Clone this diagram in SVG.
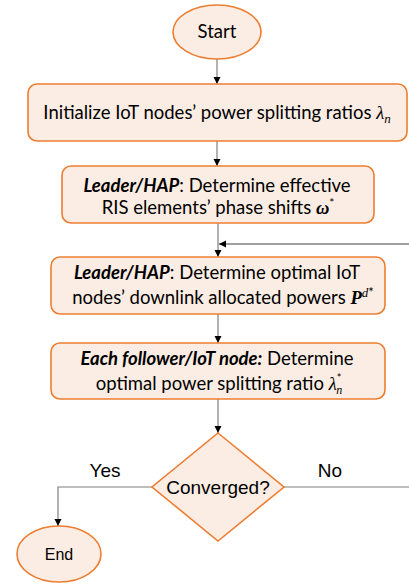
<svg xmlns="http://www.w3.org/2000/svg" width="409" height="587" viewBox="0 0 409 587">
<style>
.shape{fill:#FBEDE3;stroke:#ED7D31;stroke-width:1.6}
.t{font-family:Lato,"Open Sans",sans-serif;font-size:18.5px;fill:#000}
.a{font-family:"Liberation Sans",Arial,sans-serif;font-size:19px;fill:#000}
.bi{font-weight:bold;font-style:italic}
.m{font-family:"Liberation Serif","DejaVu Serif",serif;font-style:italic}
.c{fill:none;stroke:#7F7F7F;stroke-width:1.2}
.fb{fill:none;stroke:#404040;stroke-width:1.2}
</style>
<defs>
<marker id="ah" markerUnits="userSpaceOnUse" markerWidth="8" markerHeight="8" refX="7" refY="4" orient="auto">
<path d="M0,0.5 L7,4 L0,7.5 z" fill="#000"/>
</marker>
</defs>
<rect width="409" height="587" fill="#fff"/>
<g id="connectors">
<line class="c" x1="217" y1="58" x2="217" y2="84" marker-end="url(#ah)"/>
<line class="c" x1="217" y1="141" x2="217" y2="166" marker-end="url(#ah)"/>
<line class="c" x1="218" y1="223" x2="218" y2="257" marker-end="url(#ah)"/>
<line class="fb" x1="409" y1="244" x2="219" y2="244" marker-end="url(#ah)"/>
<line class="c" x1="218" y1="314" x2="218" y2="343" marker-end="url(#ah)"/>
<line class="c" x1="218" y1="399" x2="218" y2="433" marker-end="url(#ah)"/>
<polyline class="c" points="152,487 58,487 58,526" marker-end="url(#ah)"/>
<line class="c" x1="284" y1="487" x2="409" y2="487"/>
<text class="a" x="105" y="477" text-anchor="middle">Yes</text>
<text class="a" x="330" y="477" text-anchor="middle">No</text>
</g>
<g id="start">
<ellipse class="shape" cx="217" cy="32" rx="44" ry="27"/>
<text class="t" x="217" y="38" text-anchor="middle">Start</text>
</g>
<g id="init">
<rect class="shape" x="28" y="84" width="379" height="57" rx="9"/>
<text class="t" x="217" y="119" text-anchor="middle">Initialize IoT nodes’ power splitting ratios <tspan class="m">λ</tspan><tspan class="m" font-size="13" dy="4">n</tspan></text>
</g>
<g id="phase">
<rect class="shape" x="62" y="166" width="312" height="57" rx="9"/>
<text class="t" x="217" y="192" text-anchor="middle"><tspan class="bi">Leader/HAP</tspan>: Determine effective</text>
<text class="t" x="218" y="214" text-anchor="middle">RIS elements’ phase shifts <tspan class="m" font-weight="bold">ω</tspan><tspan font-size="12" dy="-7">*</tspan></text>
</g>
<g id="power">
<rect class="shape" x="51" y="257" width="334" height="57" rx="9"/>
<text class="t" x="217" y="279" text-anchor="middle"><tspan class="bi">Leader/HAP</tspan>: Determine optimal IoT</text>
<text class="t" x="223" y="304" text-anchor="middle">nodes’ downlink allocated powers <tspan class="m" font-weight="bold">P</tspan><tspan class="m" font-size="13" dy="-7">d</tspan><tspan font-size="13">*</tspan></text>
</g>
<g id="split">
<rect class="shape" x="51" y="343" width="334" height="56" rx="9"/>
<text class="t" x="217" y="365" text-anchor="middle"><tspan class="bi">Each follower/IoT node:</tspan> Determine</text>
<text class="t" x="219" y="390" text-anchor="middle">optimal power splitting ratio <tspan class="m">λ</tspan><tspan font-size="11" dy="-8">*</tspan><tspan class="m" font-size="12" dx="-5" dy="12">n</tspan></text>
</g>
<g id="converged">
<polygon class="shape" points="218,433 284,487 218,541 152,487"/>
<text class="a" x="218" y="494" text-anchor="middle">Converged?</text>
</g>
<g id="end">
<ellipse class="shape" cx="59" cy="554" rx="42" ry="28"/>
<text class="a" x="59" y="560" text-anchor="middle" style="font-size:16px">End</text>
</g>
</svg>
